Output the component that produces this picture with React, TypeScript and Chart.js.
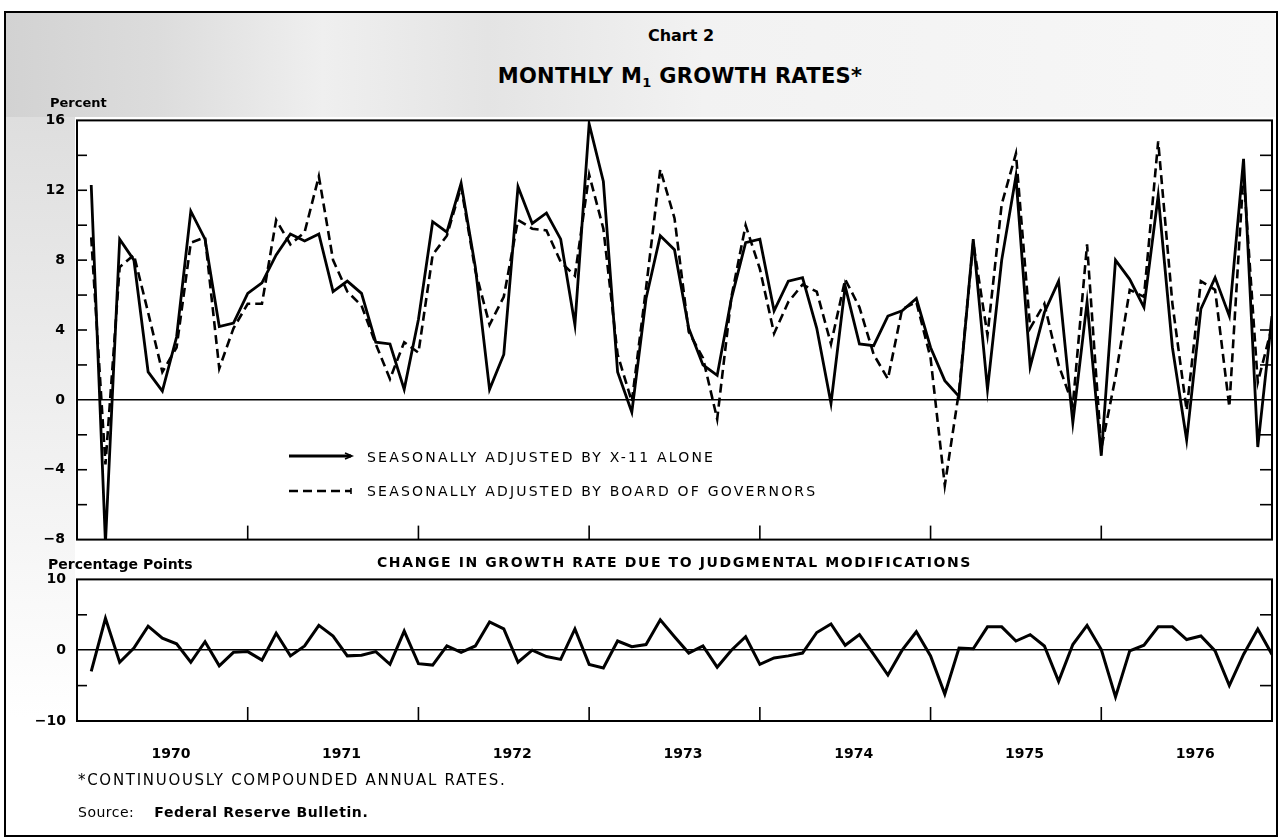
import React, { useEffect, useRef } from "react";
import { Chart, registerables } from "chart.js";

Chart.register(...registerables);

// ---- data (monthly, Jan 1970 .. Dec 1976) ----
const yearLabels = ["1970", "1971", "1972", "1973", "1974", "1975", "1976"];
const yearBoundaries = [12, 24, 36, 48, 60, 72];

const x11Rates = [
  12.3, -8.2, 9.2, 8.0, 1.6, 0.5, 3.6, 10.8, 9.2, 4.2, 4.4, 6.1,
  6.7, 8.3, 9.5, 9.1, 9.5, 6.2, 6.8, 6.1, 3.3, 3.2, 0.6, 4.6,
  10.2, 9.6, 12.4, 7.6, 0.6, 2.6, 12.2, 10.1, 10.7, 9.2, 4.3, 15.8,
  12.5, 1.6, -0.7, 5.8, 9.4, 8.6, 4.1, 2.0, 1.4, 5.8, 9.0, 9.2,
  5.1, 6.8, 7.0, 4.1, -0.2, 6.5, 3.2, 3.1, 4.8, 5.1, 5.8, 3.0,
  1.1, 0.2, 9.2, 0.6, 8.0, 12.8, 1.9, 5.0, 6.8, -1.3, 5.6, -3.2,
  8.0, 6.9, 5.3, 11.7, 3.0, -2.3, 5.2, 7.0, 4.8, 13.8, -2.7, 4.8,
];

const boardRates = [
  9.3, -3.7, 7.6, 8.3, 5.0, 1.6, 3.0, 9.0, 9.3, 1.8, 4.1, 5.5,
  5.5, 10.3, 8.9, 9.6, 12.8, 8.0, 6.2, 5.4, 3.2, 1.2, 3.3, 2.7,
  8.3, 9.4, 12.2, 7.4, 4.3, 5.9, 10.3, 9.8, 9.7, 7.9, 7.1, 12.9,
  9.8, 2.6, -0.1, 6.4, 13.2, 10.4, 3.9, 2.4, -1.1, 5.9, 10.0, 7.5,
  3.8, 5.6, 6.6, 6.2, 3.2, 6.9, 5.3, 2.6, 1.2, 5.2, 5.6, 2.4,
  -4.9, 0.5, 9.0, 3.7, 11.2, 14.1, 4.1, 5.5, 2.0, -0.3, 8.9, -2.8,
  1.3, 6.3, 5.9, 14.8, 5.5, -0.6, 6.8, 6.3, -0.4, 13.0, 1.0, 4.2,
];

const changePoints = [
  -3.0, 4.5, -1.7, 0.3, 3.4, 1.7, 0.9, -1.7, 1.2, -2.2, -0.3, -0.2,
  -1.4, 2.4, -0.8, 0.6, 3.5, 2.0, -0.8, -0.7, -0.2, -2.0, 2.7, -1.9,
  -2.1, 0.6, -0.3, 0.6, 4.0, 3.0, -1.7, 0.0, -0.9, -1.3, 3.0, -2.0,
  -2.5, 1.3, 0.5, 0.8, 4.3, 1.9, -0.4, 0.6, -2.4, 0.0, 1.9, -2.0,
  -1.1, -0.8, -0.4, 2.5, 3.7, 0.7, 2.2, -0.6, -3.5, 0.0, 2.6, -0.8,
  -6.2, 0.3, 0.2, 3.3, 3.3, 1.3, 2.2, 0.6, -4.4, 0.8, 3.5, 0.1,
  -6.6, -0.1, 0.7, 3.3, 3.3, 1.5, 2.0, -0.1, -5.0, -0.6, 3.0, -0.6,
];

const topMinorTicks = [-6, -4, -2, 2, 4, 6, 8, 10, 12, 14];
const bottomMinorTicks = [-5, 5];

const FONT = "'DejaVu Sans', 'Open Sans', sans-serif";

const fmt = (v: number) => (v < 0 ? "\u2212" + Math.abs(v) : String(v));

function panelDecor(minor: number[]) {
  return {
    id: "panelDecor",
    afterDraw(chart: any) {
      const { ctx, chartArea: a, scales } = chart;
      const xs = scales.x;
      const ys = scales.y;
      ctx.save();
      ctx.strokeStyle = "#000";
      ctx.lineWidth = 2;
      ctx.strokeRect(a.left, a.top, a.right - a.left, a.bottom - a.top);
      ctx.lineWidth = 1.6;
      for (const v of minor) {
        const py = ys.getPixelForValue(v);
        ctx.beginPath();
        ctx.moveTo(a.left, py);
        ctx.lineTo(a.left + 10, py);
        ctx.stroke();
        ctx.beginPath();
        ctx.moveTo(a.right, py);
        ctx.lineTo(a.right - 12, py);
        ctx.stroke();
      }
      for (const m of yearBoundaries) {
        const px = xs.getPixelForValue(m);
        ctx.beginPath();
        ctx.moveTo(px, a.bottom);
        ctx.lineTo(px, a.bottom - 14);
        ctx.stroke();
      }
      ctx.restore();
    },
  };
}

const toXY = (arr: number[]) => arr.map((v, i) => ({ x: i + 1, y: v }));

const tickFont = { family: FONT, weight: "bold" as const, size: 14 };

export default function App() {
  const topRef = useRef<HTMLCanvasElement>(null);
  const botRef = useRef<HTMLCanvasElement>(null);

  useEffect(() => {
    const top = new Chart(topRef.current!, {
      type: "line",
      data: {
        datasets: [
          {
            label: "SEASONALLY ADJUSTED BY X-11 ALONE",
            data: toXY(x11Rates),
            borderColor: "#000",
            borderWidth: 2.8,
            pointRadius: 0,
            tension: 0,
          },
          {
            label: "SEASONALLY ADJUSTED BY BOARD OF GOVERNORS",
            data: toXY(boardRates),
            borderColor: "#000",
            borderWidth: 2.6,
            borderDash: [9, 5],
            pointRadius: 0,
            tension: 0,
          },
        ],
      },
      options: {
        animation: false,
        responsive: false,
        layout: { padding: { left: 0, top: 19, right: 6, bottom: 17 } },
        plugins: { legend: { display: false }, tooltip: { enabled: false } },
        scales: {
          x: { type: "linear", min: 0, max: 84, display: false },
          y: {
            min: -8,
            max: 16,
            ticks: { stepSize: 4, padding: 12, color: "#000", font: tickFont, callback: (v: any) => fmt(Number(v)) },
            grid: {
              drawTicks: false,
              lineWidth: 1.6,
              color: (c: any) => (c.tick && c.tick.value === 0 ? "#000" : "rgba(0,0,0,0)"),
            },
            border: { display: false },
            afterFit: (s: any) => {
              s.width = 77;
            },
          },
        },
      },
      plugins: [panelDecor(topMinorTicks)],
    } as any);

    const bottom = new Chart(botRef.current!, {
      type: "line",
      data: {
        datasets: [
          {
            label: "CHANGE IN GROWTH RATE DUE TO JUDGMENTAL MODIFICATIONS",
            data: toXY(changePoints),
            borderColor: "#000",
            borderWidth: 3,
            pointRadius: 0,
            tension: 0,
          },
        ],
      },
      options: {
        animation: false,
        responsive: false,
        layout: { padding: { left: 0, top: 19, right: 6, bottom: 0 } },
        plugins: { legend: { display: false }, tooltip: { enabled: false } },
        scales: {
          x: {
            type: "linear",
            min: 0,
            max: 84,
            position: "bottom",
            grid: { display: false },
            border: { display: false },
            ticks: {
              autoSkip: false,
              maxRotation: 0,
              padding: 17,
              color: "#000",
              font: tickFont,
              callback: (_v: any, idx: number) => yearLabels[idx],
            },
            afterBuildTicks: (s: any) => {
              s.ticks = yearLabels.map((_, k) => ({ value: 12 * k + 6.6 }));
            },
            afterFit: (s: any) => {
              s.height = 59;
            },
          },
          y: {
            min: -10,
            max: 10,
            ticks: { stepSize: 10, padding: 11, color: "#000", font: tickFont, callback: (v: any) => fmt(Number(v)) },
            grid: {
              drawTicks: false,
              lineWidth: 1.6,
              color: (c: any) => (c.tick && c.tick.value === 0 ? "#000" : "rgba(0,0,0,0)"),
            },
            border: { display: false },
            afterFit: (s: any) => {
              s.width = 77;
            },
          },
        },
      },
      plugins: [panelDecor(bottomMinorTicks)],
    } as any);

    return () => {
      top.destroy();
      bottom.destroy();
    };
  }, []);

  const abs = (extra: React.CSSProperties): React.CSSProperties => ({ position: "absolute", ...extra });

  return (
    <div
      style={{
        position: "absolute",
        left: 0,
        top: 0,
        width: 1278,
        height: 837,
        background: "#fff",
        overflow: "hidden",
        fontFamily: FONT,
        color: "#000",
      }}
    >
      {/* scanned tint areas */}
      <div
        style={abs({
          left: 5,
          top: 13,
          width: 1270,
          height: 104,
          background:
            "linear-gradient(to right, #d2d2d2 0%, #dcdcdc 12%, #efefef 25%, #e4e4e4 38%, #f2f2f2 55%, #f7f7f7 100%)",
        })}
      />
      <div
        style={abs({
          left: 5,
          top: 117,
          width: 70,
          height: 600,
          background: "linear-gradient(to bottom, #dedede 0%, #efefef 50%, #ffffff 100%)",
        })}
      />
      {/* page frame */}
      <div
        style={abs({
          left: 4,
          top: 11,
          width: 1270,
          height: 822,
          border: "2px solid #000",
        })}
      />

      <canvas ref={topRef} width={1278} height={460} style={abs({ left: 0, top: 100, width: 1278, height: 460 })} />
      <canvas ref={botRef} width={1278} height={220} style={abs({ left: 0, top: 560, width: 1278, height: 220 })} />

      <div style={abs({ left: 681, top: 35, transform: "translate(-50%,-50%)", fontSize: 16, fontWeight: 700, whiteSpace: "nowrap" })}>
        Chart 2
      </div>
      <div
        style={abs({
          left: 680,
          top: 77,
          transform: "translate(-50%,-50%)",
          fontSize: 21,
          fontWeight: 700,
          whiteSpace: "nowrap",
          letterSpacing: 0.3,
        })}
      >
        MONTHLY M<sub style={{ fontSize: 13, verticalAlign: "-4px" }}>1</sub> GROWTH RATES*
      </div>
      <div style={abs({ left: 50, top: 102, transform: "translateY(-50%)", fontSize: 13, fontWeight: 700, whiteSpace: "nowrap" })}>
        Percent
      </div>

      {/* legend */}
      <svg style={abs({ left: 285, top: 445, width: 75, height: 60 })} width={75} height={60}>
        <line x1={4} y1={11} x2={66} y2={11} stroke="#000" strokeWidth={2.8} />
        <polyline points="60,8 67,11 60,14" fill="none" stroke="#000" strokeWidth={1.6} />
        <line x1={4} y1={46} x2={66} y2={46} stroke="#000" strokeWidth={2.6} strokeDasharray="9 5" />
        <line x1={66} y1={43} x2={66} y2={49} stroke="#000" strokeWidth={1.6} />
      </svg>
      <div style={abs({ left: 367, top: 457, transform: "translateY(-50%)", fontSize: 14, letterSpacing: 2.2, whiteSpace: "nowrap" })}>
        SEASONALLY ADJUSTED BY X-11 ALONE
      </div>
      <div style={abs({ left: 367, top: 491, transform: "translateY(-50%)", fontSize: 14, letterSpacing: 2.2, whiteSpace: "nowrap" })}>
        SEASONALLY ADJUSTED BY BOARD OF GOVERNORS
      </div>

      <div style={abs({ left: 48, top: 564, transform: "translateY(-50%)", fontSize: 14, fontWeight: 700, whiteSpace: "nowrap" })}>
        Percentage Points
      </div>
      <div
        style={abs({
          left: 377,
          top: 562,
          transform: "translateY(-50%)",
          fontSize: 14,
          fontWeight: 700,
          letterSpacing: 1.6,
          whiteSpace: "nowrap",
        })}
      >
        CHANGE IN GROWTH RATE DUE TO JUDGMENTAL MODIFICATIONS
      </div>

      <div style={abs({ left: 78, top: 780, transform: "translateY(-50%)", fontSize: 15, letterSpacing: 1.7, whiteSpace: "nowrap" })}>
        *CONTINUOUSLY COMPOUNDED ANNUAL RATES.
      </div>
      <div style={abs({ left: 78, top: 812, transform: "translateY(-50%)", fontSize: 14, whiteSpace: "nowrap", letterSpacing: 0.5 })}>
        Source:<span style={{ fontWeight: 700, marginLeft: 20, letterSpacing: 0.6 }}>Federal Reserve Bulletin.</span>
      </div>
    </div>
  );
}
